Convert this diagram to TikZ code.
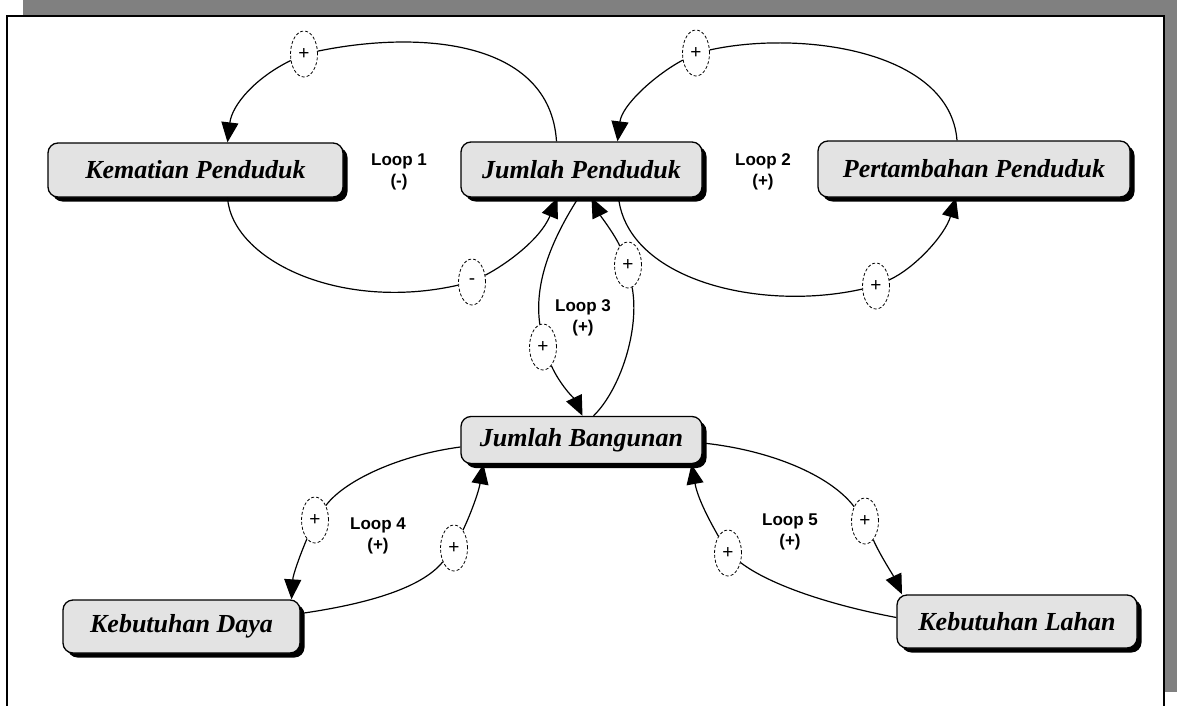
\documentclass[tikz,border=0pt]{standalone}
\usepackage{fontspec}
\setmainfont{Liberation Serif}
\newfontfamily\loopfont{Liberation Sans}
\usetikzlibrary{arrows.meta,shapes.geometric,shadows}

\begin{document}
\begin{tikzpicture}[
      x=1pt, y=-1pt,
      % The variable boxes:
      var/.style={rectangle, rounded corners=10pt, draw, line width=1.3pt, fill=gray!22,
        drop shadow={shadow xshift=4.5pt, shadow yshift=-4.5pt, fill=black, opacity=1},
        inner sep=2pt, font=\fontsize{26}{28}\selectfont\bfseries\itshape},
      % The polarity marks on the links:
      sign/.style={ellipse, draw, densely dashed, line width=0.8pt, fill=white,
        minimum width=27pt, minimum height=46pt, inner sep=0pt,
        font=\loopfont\fontsize{19}{19}\selectfont},
      looplabel/.style={align=center, font=\loopfont\bfseries\fontsize{17}{21}\selectfont},
      link/.style={line width=1.2pt},
      arrowlink/.style={link, -{Triangle[length=20pt,width=17pt]}}
  ]
  \useasboundingbox (0,0) rectangle (1177,706);

  %%%%%%%%%%%%%%%%%%%%%%%%%%%%%%%%%%%%%%%%%%%%%%%%%%%%%%%%
  % FRAME with grey shadow top and right
  %%%%%%%%%%%%%%%%%%%%%%%%%%%%%%%%%%%%%%%%%%%%%%%%%%%%%%%%
  \fill[black!50] (23,0) rectangle (1177,692);
  \fill[white] (7,16) rectangle (1164,706);
  \draw[line width=2pt] (7,706) -- (7,16) -- (1164,16) -- (1164,706);

  %%%%%%%%%%%%%%%%%%%%%%%%%%%%%%%%%%%%%%%%%%%%%%%%%%%%%%%%
  % VARIABLES
  %%%%%%%%%%%%%%%%%%%%%%%%%%%%%%%%%%%%%%%%%%%%%%%%%%%%%%%%
  \node[var, minimum width=295pt, minimum height=54pt] (KP) at (195.5,170)   {Kematian Penduduk};
  \node[var, minimum width=241pt, minimum height=55pt] (JP) at (581.5,169.5) {Jumlah Penduduk};
  \node[var, minimum width=312pt, minimum height=56pt] (PP) at (974,169)     {Pertambahan Penduduk};
  \node[var, minimum width=241pt, minimum height=47pt] (JB) at (581.5,440)   {Jumlah Bangunan};
  \node[var, minimum width=237pt, minimum height=53pt] (KD) at (181.5,626.5) {Kebutuhan Daya};
  \node[var, minimum width=240pt, minimum height=53pt] (KL) at (1017,621.5)  {Kebutuhan Lahan};

  % Polarity marks
  \node[sign] (s1)  at (304,54)  {+};
  \node[sign] (s2)  at (472,282) {-};
  \node[sign] (s3)  at (696,53)  {+};
  \node[sign] (s4)  at (876,286) {+};
  \node[sign] (s5)  at (543,347) {+};
  \node[sign] (s6)  at (628,265) {+};
  \node[sign] (s7)  at (315,520) {+};
  \node[sign] (s8)  at (454,548) {+};
  \node[sign] (s9)  at (865,521) {+};
  \node[sign] (s10) at (728,553) {+};

  %%%%%%%%%%%%%%%%%%%%%%%%%%%%%%%%%%%%%%%%%%%%%%%%%%%%%%%%
  % LOOP 1 (-)
  %%%%%%%%%%%%%%%%%%%%%%%%%%%%%%%%%%%%%%%%%%%%%%%%%%%%%%%%
  \draw[link] ([xshift=-25pt]JP.north) .. controls (550,40) and (420,30) .. (s1);
  \draw[arrowlink] (s1) .. controls (255,78) and (232,105) .. ([xshift=32pt]KP.north);
  \draw[link] ([xshift=32pt]KP.south) .. controls (232,260) and (340,312) .. (s2);
  \draw[arrowlink] (s2) .. controls (505,265) and (540,240) .. ([xshift=-24pt]JP.south);
  \node[looplabel] (L1) at (399,172) {Loop 1\\(-)};

  %%%%%%%%%%%%%%%%%%%%%%%%%%%%%%%%%%%%%%%%%%%%%%%%%%%%%%%%
  % LOOP 2 (+)
  %%%%%%%%%%%%%%%%%%%%%%%%%%%%%%%%%%%%%%%%%%%%%%%%%%%%%%%%
  \draw[link] ([xshift=-17pt]PP.north) .. controls (950,50) and (800,30) .. (s3);
  \draw[arrowlink] (s3) .. controls (655,75) and (622,105) .. ([xshift=36pt]JP.north);
  \draw[link] ([xshift=37pt]JP.south) .. controls (628,280) and (760,312) .. (s4);
  \draw[arrowlink] (s4) .. controls (915,268) and (945,235) .. ([xshift=-18pt]PP.south);
  \node[looplabel] (L2) at (763,172) {Loop 2\\(+)};

  %%%%%%%%%%%%%%%%%%%%%%%%%%%%%%%%%%%%%%%%%%%%%%%%%%%%%%%%
  % LOOP 3 (+)
  %%%%%%%%%%%%%%%%%%%%%%%%%%%%%%%%%%%%%%%%%%%%%%%%%%%%%%%%
  \draw[link] ([xshift=-3pt]JP.south) .. controls (545,250) and (535,290) .. (s5);
  \draw[arrowlink] (s5) .. controls (560,385) and (575,400) .. ([xshift=1pt]JB.north);
  \draw[link] ([xshift=12pt]JB.north) .. controls (620,390) and (640,330) .. (s6);
  \draw[arrowlink] (s6) .. controls (615,235) and (600,215) .. ([xshift=10pt]JP.south);
  \node[looplabel] (L3) at (583,318) {Loop 3\\(+)};

  %%%%%%%%%%%%%%%%%%%%%%%%%%%%%%%%%%%%%%%%%%%%%%%%%%%%%%%%
  % LOOP 4 (+)
  %%%%%%%%%%%%%%%%%%%%%%%%%%%%%%%%%%%%%%%%%%%%%%%%%%%%%%%%
  \draw[link] ([yshift=-7pt]JB.west) .. controls (400,455) and (345,480) .. (s7);
  \draw[arrowlink] (s7) .. controls (300,555) and (293,575) .. ([xshift=110pt]KD.north);
  \draw[link] ([yshift=13pt]KD.east) .. controls (360,605) and (420,590) .. (s8);
  \draw[arrowlink] (s8) .. controls (468,520) and (478,495) .. ([xshift=-98pt]JB.south);
  \node[looplabel] (L4) at (378,536) {Loop 4\\(+)};

  %%%%%%%%%%%%%%%%%%%%%%%%%%%%%%%%%%%%%%%%%%%%%%%%%%%%%%%%
  % LOOP 5 (+)
  %%%%%%%%%%%%%%%%%%%%%%%%%%%%%%%%%%%%%%%%%%%%%%%%%%%%%%%%
  \draw[link] ([yshift=-3pt]JB.east) .. controls (770,450) and (830,475) .. (s9);
  \draw[arrowlink] (s9) .. controls (880,555) and (893,575) .. ([xshift=-115pt]KL.north);
  \draw[link] ([yshift=4pt]KL.west) .. controls (830,605) and (770,585) .. (s10);
  \draw[arrowlink] (s10) .. controls (712,525) and (698,500) .. ([xshift=110pt]JB.south);
  \node[looplabel] (L5) at (790,532) {Loop 5\\(+)};

\end{tikzpicture}
\end{document}
